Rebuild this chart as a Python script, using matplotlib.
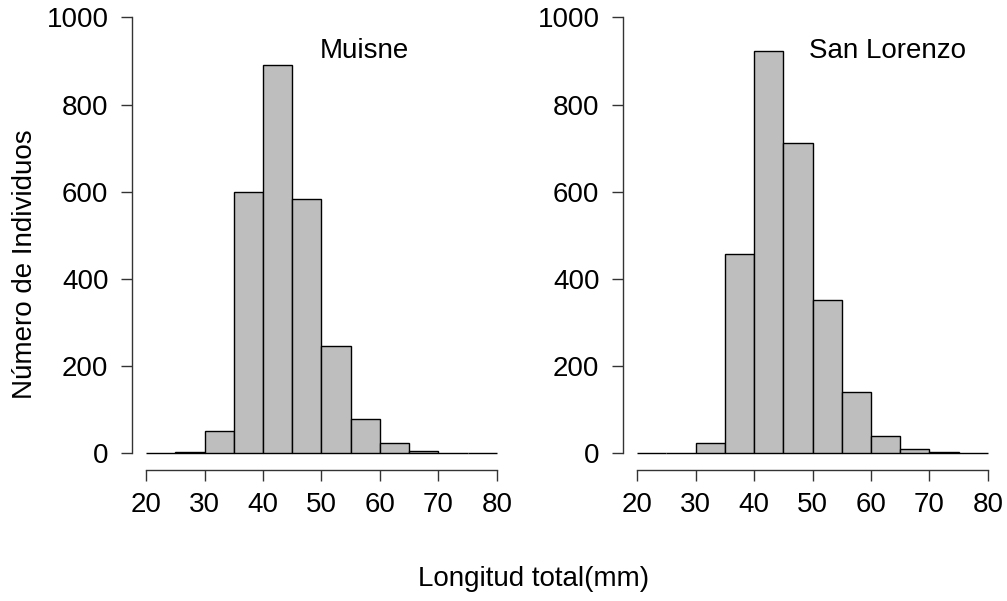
import matplotlib
matplotlib.use("Agg")
import matplotlib.pyplot as plt

plt.rcParams['font.family'] = ['Liberation Sans', 'DejaVu Sans']

bin_edges = [20, 25, 30, 35, 40, 45, 50, 55, 60, 65, 70, 75, 80]
muisne_counts = [0, 3, 50, 600, 890, 582, 245, 77, 22, 5, 0, 0]
sanlorenzo_counts = [0, 0, 24, 456, 922, 712, 351, 141, 38, 8, 2, 0]
titles = ["Muisne", "San Lorenzo"]
x_ticks = [20, 30, 40, 50, 60, 70, 80]
y_ticks = [0, 200, 400, 600, 800, 1000]

W, H = 1007, 601
FS = 20
fig = plt.figure(figsize=(W / 100, H / 100), dpi=100)

def make_axes(left_px, right_px):
    bottom_px = 470.4
    top_px = 0.0
    return fig.add_axes([left_px / W, (H - bottom_px) / H,
                         (right_px - left_px) / W, (bottom_px - top_px) / H])

axes = [make_axes(132, 511), make_axes(623, 1002)]
data = [muisne_counts, sanlorenzo_counts]

for ax, counts in zip(axes, data):
    lefts = bin_edges[:-1]
    widths = [b - a for a, b in zip(bin_edges[:-1], bin_edges[1:])]
    ax.bar(lefts, counts, width=widths, align='edge', color='#bebebe',
           edgecolor='black', linewidth=1.0)
    ax.set_xlim(17.6, 82.4)
    ax.set_ylim(-40, 1040)
    for s in ['top', 'right']:
        ax.spines[s].set_visible(False)
    ax.spines['left'].set_bounds(0, 1000)
    ax.spines['bottom'].set_bounds(20, 80)
    for s in ['left', 'bottom']:
        ax.spines[s].set_color('#333333')
        ax.spines[s].set_linewidth(1.0)
    ax.set_xticks(x_ticks)
    ax.set_yticks(y_ticks)
    ax.tick_params(axis='both', direction='out', length=8, width=1.0,
                   color='#333333', labelsize=FS)
    ax.tick_params(axis='x', pad=7.5)
    ax.tick_params(axis='y', pad=9)
    ax.set_facecolor('none')

axes[0].text(57.3, 922, titles[0], fontsize=FS, ha='center', va='center')
axes[1].text(62.9, 922, titles[1], fontsize=FS, ha='center', va='center')

fig.text(25 / W, 1 - 264 / H, "Número de Individuos", rotation=90,
         fontsize=FS, ha='center', va='center')
fig.text(534 / W, 1 - 579 / H, "Longitud total(mm)", fontsize=FS,
         ha='center', va='center')

fig.savefig("out.png", dpi=100)
